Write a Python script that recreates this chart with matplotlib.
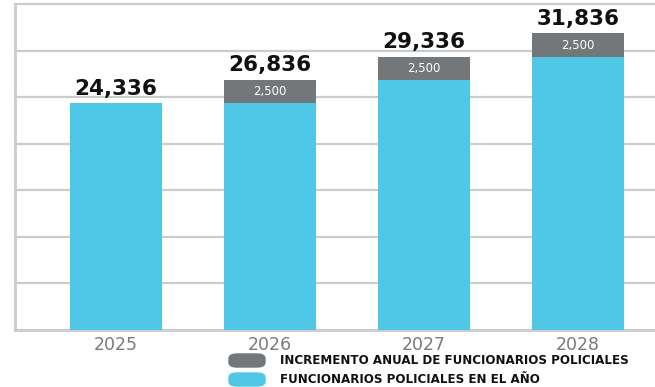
import matplotlib.pyplot as plt
from matplotlib.patches import FancyBboxPatch
import numpy as np

years = ["2025", "2026", "2027", "2028"]
policias = [24336, 24336, 26836, 29336]
incremento = [0, 2500, 2500, 2500]

cyan = "#4fc8e7"
gris = "#737779"
linea = "#cccccc"

fig = plt.figure(figsize=(6.55, 3.87), dpi=100)
ax = fig.add_axes([15/655, 1-330/387, 640/655, 326/387])

x = np.arange(len(years))
totales = np.array(policias) + np.array(incremento)

ax.bar(x, policias, width=0.6, color=cyan, zorder=3)
ax.bar(x, incremento, width=0.6, bottom=policias, color=gris, zorder=3)

for xi, tot, inc, base in zip(x, totales, incremento, policias):
    ax.text(xi, tot + 500, f"{tot:,}", ha="center", va="bottom",
            fontsize=15.5, fontweight="bold", color="#111111", zorder=4)
    if inc:
        ax.text(xi, base + inc / 2, f"{inc:,}", ha="center", va="center",
                fontsize=8.5, color="white", zorder=4)

ax.set_xlim(-0.656, 3.5)
ax.set_ylim(0, 35000)
ax.set_yticks(np.arange(0, 35001, 5000))
ax.yaxis.grid(True, color=linea, linewidth=1.6)
ax.set_axisbelow(True)
for gl in ax.get_ygridlines():
    gl.set_clip_on(False)
ax.tick_params(left=False, bottom=False, labelleft=False)
ax.set_xticks(x)
ax.set_xticklabels(years, fontsize=12.5, color="#7a7a7a")
ax.tick_params(axis="x", pad=1)
for s in ["top", "right"]:
    ax.spines[s].set_visible(False)
ax.spines["left"].set_color(linea)
ax.spines["left"].set_linewidth(2)
ax.spines["bottom"].set_color(linea)
ax.spines["bottom"].set_linewidth(2)

# leyenda
items = [(gris, "INCREMENTO ANUAL DE FUNCIONARIOS POLICIALES", 354),
         (cyan, "FUNCIONARIOS POLICIALES EN EL AÑO", 373)]
for color, label, ytop in items:
    fig.patches.append(FancyBboxPatch((229/655, 1-(ytop+13)/387), 36/655, 13/387,
                                      boxstyle="round,pad=0,rounding_size=0.012",
                                      transform=fig.transFigure, color=color))
    fig.text(280/655, 1-(ytop+6.5)/387, label, fontsize=8.6, fontweight="bold",
             color="#111111", va="center", ha="left")

fig.savefig("out.png", dpi=100)
